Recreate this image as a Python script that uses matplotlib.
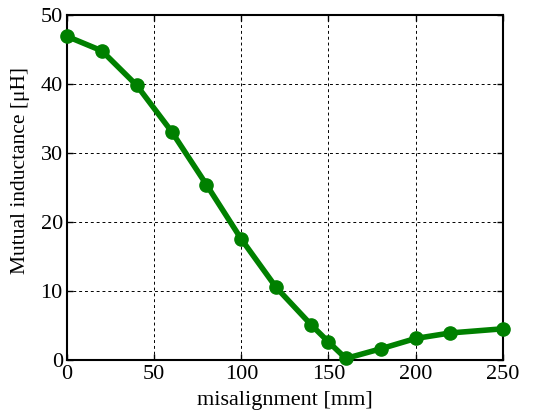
import matplotlib.pyplot as plt

# measured mutual inductance vs. lateral misalignment
misalignment = [0, 20, 40, 60, 80, 100, 120, 140, 150, 160, 180, 200, 220, 250]
inductance = [46.9, 44.8, 39.8, 33.1, 25.4, 17.5, 10.5, 5.1, 2.6, 0.2, 1.6, 3.1, 3.9, 4.5]

plt.rcParams['font.family'] = ['Liberation Serif', 'DejaVu Serif']
plt.rcParams['font.size'] = 16

fig = plt.figure(figsize=(5.36, 4.16), dpi=100)
ax = fig.add_axes([0.125, 0.135, 0.813, 0.829])
ax.plot(misalignment, inductance, color=(0, 0.5, 0), linewidth=4,
        marker='o', markersize=9.5, clip_on=False, zorder=3)
ax.set_xlim(0, 250)
ax.set_ylim(0, 50)
ax.set_xticks([0, 50, 100, 150, 200, 250])
ax.set_yticks([0, 10, 20, 30, 40, 50])
ax.grid(True, color='black', linestyle=(0, (3, 3)), linewidth=0.7)
ax.tick_params(direction='in', top=True, right=True, length=4, width=1)
ax.tick_params(axis='x', pad=4)
ax.tick_params(axis='y', pad=3)
for s in ax.spines.values():
    s.set_linewidth(1.5)
ax.set_xlabel('misalignment [mm]', labelpad=5)
ax.set_ylabel('Mutual inductance [μH]', fontsize=15.5)
ax.yaxis.set_label_coords(-0.085, 0.55)
fig.savefig('out.png', dpi=100)
